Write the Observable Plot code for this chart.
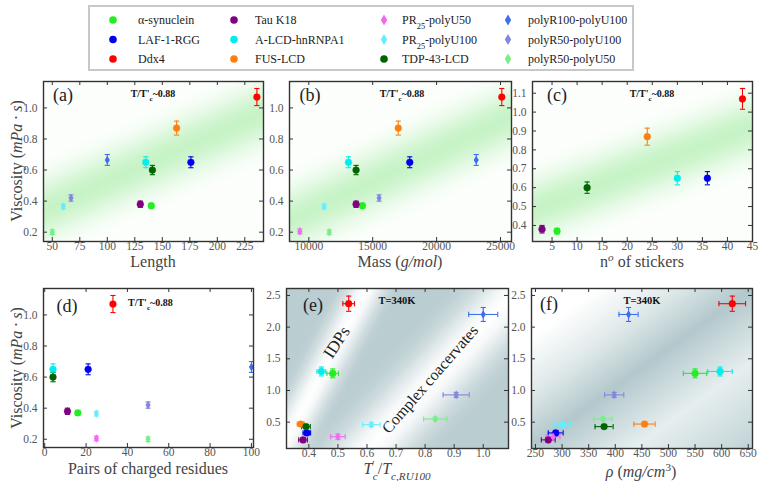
<!DOCTYPE html>
<html><head><meta charset="utf-8">
<script src="https://cdn.jsdelivr.net/npm/d3@7"></script>
<script src="https://cdn.jsdelivr.net/npm/@observablehq/plot@0.6"></script>
<style>
body{margin:0;background:#fff;}
#root{position:relative;width:766px;height:481px;overflow:hidden;font-family:"Liberation Serif",serif;background:#fff;}
#root svg{position:absolute;overflow:visible;}
#root svg text{font-family:"Liberation Serif",serif;}
</style></head><body><div id="root"></div>
<script>
// ---- data (one entry per system) ----
const names = ["α-synuclein","LAF-1-RGG","Ddx4","Tau K18","A-LCD-hnRNPA1","FUS-LCD","PR25-polyU50","PR25-polyU100","TDP-43-LCD","polyR100-polyU100","polyR50-polyU100","polyR50-polyU50"];
const colors = ["#22ee22","#0000ee","#ff0000","#800080","#00eeee","#ff7f0e","#f06af0","#66eeff","#006400","#3f6fef","#8585e0","#77ee88"];
const shapes = ["circle","circle","circle","circle","circle","circle","diamond","diamond","circle","diamond","diamond","diamond"];
const lengthRes   = [140,176,236,130,135,163,null,60,141,100,67,50];
const massGmol    = [14200,17900,25100,13700,13100,17000,9300,11200,13700,23100,15500,11600];
const stickers    = [6,36,43,3,30,24,null,null,12,null,null,null];
const chargedPairs= [16,21,33,11,4,null,25,25,4,100,50,50];
const viscosity   = [0.37,0.65,1.07,0.38,0.65,0.87,0.205,0.365,0.60,0.665,0.42,0.20];
const viscosityErr= [0.015,0.035,0.055,0.02,0.035,0.045,0.015,0.015,0.03,0.035,0.02,0.015];
const tcRatio     = [0.482,0.393,0.537,0.38,0.443,0.372,0.50,0.615,0.39,1.0,0.907,0.835];
const tcRatioErr  = [0.02,0.013,0.02,0.015,0.015,0.012,0.025,0.03,0.015,0.05,0.045,0.04];
const visc340     = [1.27,0.33,2.37,0.22,1.30,0.47,0.27,0.46,0.43,2.20,0.93,0.55];
const visc340Err  = [0.07,0.03,0.12,0.03,0.07,0.03,0.04,0.03,0.03,0.11,0.04,0.03];
const density     = [550,288,620,274,597,455,283,301,379,425,398,377];
const densityErr  = [22,14,25,13,23,20,13,15,17,18,18,17];
// tick labels
const ticksLength = [50,75,100,125,150,175,200,225];
const ticksMass = [10000,15000,20000,25000];
const ticksStickers = [5,10,15,20,25,30,35,40,45];
const ticksPairs = [0,20,40,60,80,100];
const ticksVisc = [0.2,0.4,0.6,0.8,1.0];
const ticksViscC = [0.4,0.5,0.6,0.7,0.8,0.9,1.0,1.1];
const ticksTc = [0.4,0.5,0.6,0.7,0.8,0.9,1.0];
const ticksRho = [250,300,350,400,450,500,550,600,650];
const ticksVisc340 = [0.5,1.0,1.5,2.0,2.5];

const root = document.getElementById("root");
const SVGNS = "http://www.w3.org/2000/svg";
const SERIF = "Liberation Serif";
const capH = {draw(ctx,size){const w=Math.sqrt(size/Math.PI);ctx.moveTo(-w,0);ctx.lineTo(w,0);}};
const capV = {draw(ctx,size){const w=Math.sqrt(size/Math.PI);ctx.moveTo(0,-w);ctx.lineTo(0,w);}};
const thinDiamond = {draw(ctx,size){const r=Math.sqrt(size/Math.PI);ctx.moveTo(0,-1.35*r);ctx.lineTo(0.8*r,0);ctx.lineTo(0,1.35*r);ctx.lineTo(-0.8*r,0);ctx.closePath();}};
const GRAY = "#b3c8cc";

function gaussStops(color){
  const s=[];for(let k=0;k<=10;k++){const o=k/10,t=(o-0.5)*2;s.push([o,color,Math.exp(-t*t*3)]);}return s;
}
let gidN=0;
function addGradRect(g, mL, mT, fw, fh, p0, p1, W, stops){
  const id="grad"+(gidN++);
  const dx=p1[0]-p0[0], dy=p1[1]-p0[1], L=Math.hypot(dx,dy), nx=-dy/L, ny=dx/L;
  const defs=document.createElementNS(SVGNS,"defs");
  const lg=document.createElementNS(SVGNS,"linearGradient");
  lg.setAttribute("id",id);lg.setAttribute("gradientUnits","userSpaceOnUse");
  lg.setAttribute("x1",p0[0]-nx*W);lg.setAttribute("y1",p0[1]-ny*W);
  lg.setAttribute("x2",p0[0]+nx*W);lg.setAttribute("y2",p0[1]+ny*W);
  for(const [o,c,op] of stops){const st=document.createElementNS(SVGNS,"stop");st.setAttribute("offset",o);st.setAttribute("stop-color",c);st.setAttribute("stop-opacity",op);lg.appendChild(st);}
  defs.appendChild(lg);g.appendChild(defs);
  const r=document.createElementNS(SVGNS,"rect");
  r.setAttribute("x",mL);r.setAttribute("y",mT);r.setAttribute("width",fw);r.setAttribute("height",fh);r.setAttribute("fill",`url(#${id})`);
  g.appendChild(r);
}

function panel(cfg){
  const mL=45,mR=14,mT=10,mB=48;
  const {left,top,fw,fh,xd,yd,xt,yt,xf,yf,xs,ys,yerr,xerr}=cfg;
  const rows=[];
  names.forEach((n,i)=>{if(xs[i]==null||ys[i]==null)return;rows.push({name:n,color:colors[i],shape:shapes[i],x:xs[i],y:ys[i],ye:yerr?yerr[i]:0,xe:xerr?xerr[i]:0});});
  const sw=1.1;
  const marks=[];
  marks.push(Plot.ruleX(rows,{x:"x",y1:d=>d.y-d.ye,y2:d=>d.y+d.ye,stroke:"color",strokeWidth:sw}));
  marks.push(Plot.dot(rows,{x:"x",y:d=>d.y-d.ye,symbol:capH,r:2.6,stroke:"color",fill:"none",strokeWidth:sw}));
  marks.push(Plot.dot(rows,{x:"x",y:d=>d.y+d.ye,symbol:capH,r:2.6,stroke:"color",fill:"none",strokeWidth:sw}));
  if(xerr){
    marks.push(Plot.ruleY(rows,{y:"y",x1:d=>d.x-d.xe,x2:d=>d.x+d.xe,stroke:"color",strokeWidth:sw}));
    marks.push(Plot.dot(rows,{y:"y",x:d=>d.x-d.xe,symbol:capV,r:2.6,stroke:"color",fill:"none",strokeWidth:sw}));
    marks.push(Plot.dot(rows,{y:"y",x:d=>d.x+d.xe,symbol:capV,r:2.6,stroke:"color",fill:"none",strokeWidth:sw}));
  }
  marks.push(Plot.dot(rows.filter(d=>d.shape==="circle"),{x:"x",y:"y",r:3.4,fill:"color",stroke:"color",strokeWidth:0.4}));
  marks.push(Plot.dot(rows.filter(d=>d.shape==="diamond"),{x:"x",y:"y",r:3.2,symbol:thinDiamond,fill:"color",stroke:"none"}));
  marks.push(Plot.frame({stroke:"#333",strokeWidth:1.4}));
  marks.push(Plot.tickX(xt,{x:d=>d,insetTop:fh-4,stroke:"#333"}));
  marks.push(Plot.tickX(xt,{x:d=>d,insetBottom:fh-4,stroke:"#333"}));
  marks.push(Plot.tickY(yt,{y:d=>d,insetRight:fw-4,stroke:"#333"}));
  marks.push(Plot.tickY(yt,{y:d=>d,insetLeft:fw-4,stroke:"#333"}));
  marks.push(Plot.axisX(xt,{anchor:"bottom",tickSize:0,tickPadding:0,tickFormat:xf,label:null,fill:"#555",fontSize:11.5,fontFamily:SERIF}));
  marks.push(Plot.axisY(yt,{anchor:"left",tickSize:0,tickPadding:6,tickFormat:yf,label:null,fill:"#555",fontSize:11.5,fontFamily:SERIF}));
  const svg=Plot.plot({width:mL+fw+mR,height:mT+fh+mB,marginLeft:mL,marginRight:mR,marginTop:mT,marginBottom:mB,
    x:{domain:xd},y:{domain:yd},color:{type:"identity"},
    style:{background:"transparent",fontFamily:SERIF,fontSize:"11px",color:"#333"},marks});
  svg.setAttribute("font-family",SERIF);
  svg.style.left=(left-mL)+"px";svg.style.top=(top-mT)+"px";
  const X=svg.scale("x"),Y=svg.scale("y");
  const P=(a,b)=>[X.apply(a),Y.apply(b)];
  const g=document.createElementNS(SVGNS,"g");
  if(cfg.bg) cfg.bg(g,P,mL,mT,fw,fh);
  svg.insertBefore(g,svg.children[1]||null);
  root.appendChild(svg);
  return svg;
}

const GREEN="#c6f3c6";
const fmtInt=d3.format("d"), fmt1=d3.format(".1f");

panel({left:43,top:81,fw:220,fh:160,xd:[42,242],yd:[0.14,1.17],xt:ticksLength,yt:ticksVisc,xf:fmtInt,yf:fmt1,
  xs:lengthRes,ys:viscosity,yerr:viscosityErr,
  bg:(g,P,mL,mT,fw,fh)=>addGradRect(g,mL,mT,fw,fh,P(42,0.34),P(242,0.966),48,gaussStops(GREEN))});
panel({left:289,top:81,fw:222,fh:160,xd:[8490,25860],yd:[0.14,1.17],xt:ticksMass,yt:ticksVisc,xf:fmtInt,yf:fmt1,
  xs:massGmol,ys:viscosity,yerr:viscosityErr,
  bg:(g,P,mL,mT,fw,fh)=>addGradRect(g,mL,mT,fw,fh,P(8490,0.27),P(25860,0.94),48,gaussStops(GREEN))});
panel({left:532,top:81,fw:220,fh:160,xd:[1.1,45],yd:[0.315,1.162],xt:ticksStickers,yt:ticksViscC,xf:fmtInt,yf:fmt1,
  xs:stickers,ys:viscosity,yerr:viscosityErr,
  bg:(g,P,mL,mT,fw,fh)=>addGradRect(g,mL,mT,fw,fh,P(1.1,0.479),P(45,0.92),48,gaussStops(GREEN))});
panel({left:43,top:288,fw:210,fh:159,xd:[-0.6,101],yd:[0.147,1.17],xt:ticksPairs,yt:ticksVisc,xf:fmtInt,yf:fmt1,
  xs:chargedPairs,ys:viscosity,yerr:viscosityErr});
panel({left:286,top:288,fw:222,fh:160,xd:[0.323,1.087],yd:[0.084,2.61],xt:ticksTc,yt:ticksVisc340,xf:fmt1,yf:fmt1,
  xs:tcRatio,ys:visc340,yerr:visc340Err,xerr:tcRatioErr,
  bg:(g,P,mL,mT,fw,fh)=>{
    const r=document.createElementNS(SVGNS,"rect");r.setAttribute("x",mL);r.setAttribute("y",mT);r.setAttribute("width",fw);r.setAttribute("height",fh);r.setAttribute("fill",GRAY);g.appendChild(r);
    addGradRect(g,mL,mT,fw,fh,P(0.31,0.084),P(0.602,2.61),30,gaussStops("#ffffff"));
    addGradRect(g,mL,mT,fw,fh,P(0.613,0.084),P(1.087,2.42),50,gaussStops("#ffffff"));
  }});
panel({left:531,top:288,fw:221,fh:160,xd:[242.5,658],yd:[0.084,2.61],xt:ticksRho,yt:ticksVisc340,xf:fmtInt,yf:fmt1,
  xs:density,ys:visc340,yerr:visc340Err,xerr:densityErr,
  bg:(g,P,mL,mT,fw,fh)=>{
    const W=160,o=s=>(s+W)/(2*W);
    addGradRect(g,mL,mT,fw,fh,P(242.5,0.084),P(658,2.61),W,[
      [0,"#ffffff",1],[o(-90),"#ffffff",1],[o(-45),"#e0e9ea",1],[o(0),GRAY,1],[o(60),"#e6eeef",1],[o(120),"#c6d7da",1],[1,GRAY,1]]);
  }});

// ---- overlay text ----
const ov=d3.select(root).append("svg").attr("width",766).attr("height",481).style("left","0px").style("top","0px");
function rich(segs,attrs){
  const t=ov.append("text");
  for(const [k,v] of Object.entries(attrs)) t.attr(k,v);
  for(const s of segs){
    const seg=typeof s==="string"?{t:s}:s;
    const ts=t.append("tspan").text(seg.t);
    if(seg.i) ts.attr("font-style","italic");
    if(seg.sub) ts.attr("baseline-shift","sub").attr("font-size","70%");
    if(seg.sup) ts.attr("baseline-shift","super").attr("font-size","70%");
    if(seg.dx!=null) ts.attr("dx",seg.dx);
  }
  return t;
}
const base={"font-family":"'Liberation Serif',serif",fill:"#333"};
// panel letters
[["(a)",63,101],["(b)",310,101],["(c)",557,101],["(d)",67,312],["(e)",313,311],["(f)",549,310]].forEach(([s,x,y])=>
  rich([s],{...base,x,y,"font-size":18,"text-anchor":"middle",fill:"#222"}));
// notes
const note=["T/T'",{t:"c",sub:true},"~0.88"];
[[153,97],[402,97],[652,97]].forEach(([x,y])=>rich(note,{...base,x,y,"font-size":10,"font-weight":"bold","text-anchor":"middle",fill:"#111"}));
rich(note,{...base,x:128,y:306,"font-size":10,"font-weight":"bold",fill:"#111"});
rich(["T=340K"],{...base,x:397,y:304,"font-size":10.5,"font-weight":"bold","text-anchor":"middle",fill:"#111"});
rich(["T=340K"],{...base,x:642,y:304,"font-size":10.5,"font-weight":"bold","text-anchor":"middle",fill:"#111"});
rich(["IDPs"],{...base,"font-size":17,"text-anchor":"middle","dominant-baseline":"middle",transform:"translate(338,343) rotate(-57)",fill:"#222"});
rich(["Complex coacervates"],{...base,"font-size":16,"text-anchor":"middle","dominant-baseline":"middle",transform:"translate(431,380) rotate(-49)",fill:"#222"});
// axis labels
const xl={...base,"font-size":16,"text-anchor":"middle",fill:"#444"};
rich(["Length"],{...xl,x:153,y:267});
rich(["Mass (",{t:"g/mol",i:true},")"],{...xl,x:400,y:267});
rich(["n",{t:"o",sup:true,i:true}," of stickers"],{...xl,x:642,y:267});
rich(["Pairs of charged residues"],{...xl,x:148,y:474});
rich([{t:"T",i:true},{t:"′",sup:true},{t:"c",sub:true,i:true,dx:-2},"/",{t:"T",i:true},{t:"c,RU100",sub:true,i:true}],{...xl,x:397,y:474});
rich([{t:"ρ",i:true}," (",{t:"mg/cm",i:true},{t:"3",sup:true},")"],{...xl,x:641,y:477});
const yl=["Viscosity (",{t:"mPa · s",i:true},")"];
rich(yl,{...xl,transform:"translate(22,161) rotate(-90)"});
rich(yl,{...xl,transform:"translate(22,368) rotate(-90)"});

// ---- legend ----
ov.append("rect").attr("x",89).attr("y",6).attr("width",544).attr("height",64).attr("fill","#fff").attr("stroke","#c8c8c8").attr("stroke-width",2);
const lgMarkX=[113,234,384,508], lgTextX=[138,255,402,528], lgRowY=[20,39.5,59];
names.forEach((n,i)=>{
  const c=Math.floor(i/3), r=i%3, mx=lgMarkX[c], my=lgRowY[r];
  if(shapes[i]==="circle") ov.append("circle").attr("cx",mx).attr("cy",my).attr("r",3.8).attr("fill",colors[i]);
  else ov.append("path").attr("d",`M${mx},${my-5.5}L${mx+3.2},${my}L${mx},${my+5.5}L${mx-3.2},${my}Z`).attr("fill",colors[i]);
  const m=n.match(/^PR(\d+)(.*)$/);
  const segs=m?["PR",{t:m[1],sub:true},m[2]]:[n];
  rich(segs,{...base,x:lgTextX[c],y:my+4,"font-size":12,fill:"#222"});
});
</script></body></html>
